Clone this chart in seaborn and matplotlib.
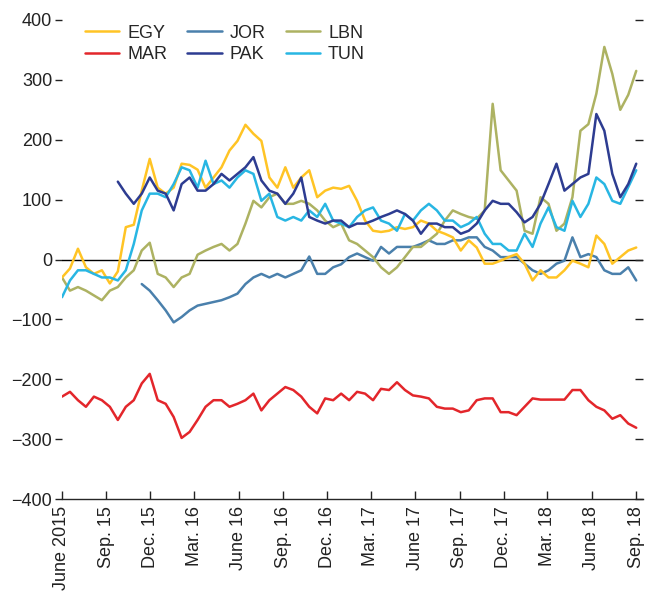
import numpy as np
import pandas as pd
import matplotlib
matplotlib.use("Agg")
import matplotlib.pyplot as plt
import seaborn as sns
from matplotlib.lines import Line2D

nan = np.nan
dates = pd.date_range("2015-06-01", "2018-09-01", periods=73)

egy = [-30, -15, 18, -13, -24, -18, -40, -20, 54, 58, 115, 168, 120, 110, 120, 160, 158, 150,
       120, 137, 154, 182, 198, 225, 210, 198, 137, 120, 154, 120, 137, 149, 104, 115, 120, 118,
       123, 98, 65, 48, 46, 48, 54, 51, 54, 65, 60, 48, 43, 37, 15, 32, 20, -7, -7, -2, 4, 9,
       -7, -35, -18, -30, -30, -18, -2, -7, -13, 40, 26, -7, 4, 15, 20]
mar = [-229, -221, -235, -246, -229, -235, -246, -268, -246, -235, -207, -191, -235, -241, -263,
       -298, -288, -268, -246, -235, -235, -246, -241, -235, -224, -252, -235, -224, -213, -218,
       -229, -246, -257, -232, -235, -224, -235, -221, -224, -235, -216, -218, -205, -218, -227,
       -229, -232, -246, -249, -249, -255, -252, -235, -232, -232, -255, -255, -260, -246, -232,
       -234, -234, -234, -234, -218, -218, -235, -246, -252, -266, -260, -274, -281]
jor = [nan] * 10 + [-41, -52, -68, -85, -105, -96, -85, -77, -74, -71, -68, -63, -57, -41, -30,
       -24, -30, -24, -30, -24, -18, 5, -24, -24, -13, -8, 4, 10, 4, -2, 21, 10, 21, 21, 21, 26,
       32, 26, 26, 32, 32, 37, 37, 21, 15, 4, 4, 4, -7, -18, -24, -18, -7, -2, 37, 4, 9, 4, -18,
       -24, -24, -13, -35]
pak = [nan] * 7 + [130, 110, 93, 110, 137, 115, 110, 82, 126, 137, 115, 115, 126, 143, 132, 143,
       154, 171, 132, 115, 110, 93, 110, 137, 71, 65, 60, 65, 65, 54, 60, 60, 65, 71, 76, 82, 76,
       65, 43, 60, 60, 54, 54, 43, 48, 60, 82, 98, 93, 93, 79, 62, 71, 93, 126, 160, 115, 126,
       137, 143, 243, 215, 143, 104, 126, 160]
lbn = [-30, -52, -46, -52, -60, -68, -52, -46, -30, -18, 15, 28, -24, -30, -46, -30, -24, 8, 15,
       21, 26, 15, 26, 60, 98, 87, 104, 110, 93, 93, 98, 93, 82, 65, 54, 60, 32, 26, 15, 4, -13,
       -24, -13, 4, 21, 21, 32, 43, 65, 82, 76, 71, 68, 82, 260, 149, 132, 115, 48, 43, 104, 93,
       48, 60, 104, 215, 226, 277, 355, 310, 250, 275, 315]
tun = [-63, -35, -18, -18, -24, -30, -30, -35, -18, 26, 82, 110, 110, 104, 126, 154, 149, 120,
       165, 126, 132, 120, 137, 149, 143, 98, 110, 71, 65, 71, 65, 82, 71, 93, 65, 60, 54, 71, 82,
       87, 65, 60, 48, 76, 65, 82, 93, 82, 65, 65, 54, 60, 71, 43, 26, 26, 15, 15, 43, 21, 60, 87,
       54, 48, 98, 71, 93, 137, 126, 98, 93, 121, 149]

countries = ["EGY", "MAR", "JOR", "PAK", "LBN", "TUN"]
series = {"EGY": egy, "MAR": mar, "JOR": jor, "PAK": pak, "LBN": lbn, "TUN": tun}
colors = {"EGY": "#FFC425", "MAR": "#E3262B", "JOR": "#4A80AC", "PAK": "#2D3C91",
          "LBN": "#ADB262", "TUN": "#28B6E3"}

tick_dates = pd.date_range("2015-06-01", "2018-09-01", freq="3MS")
tick_labels = ["June 2015", "Sep. 15", "Dec. 15", "Mar. 16", "June 16", "Sep. 16", "Dec. 16",
               "Mar. 17", "June 17", "Sep. 17", "Dec. 17", "Mar. 18", "June 18", "Sep. 18"]

frames = []
for c in countries:
    frames.append(pd.DataFrame({"date": dates, "value": series[c], "country": c}))
df = pd.concat(frames, ignore_index=True).dropna()

sns.set_style("ticks")
plt.rcParams["font.family"] = ["Liberation Sans", "DejaVu Sans"]
plt.rcParams["axes.unicode_minus"] = True

FS = 13
LW = 1.8

fig = plt.figure(figsize=(6.46, 5.94), dpi=100)
ax = fig.add_axes([62 / 646, 1 - 499 / 594, (643 - 62) / 646, (499 - 20) / 594])

ax.axhline(0, color="black", lw=1.0, zorder=1)
draw_order = ["MAR", "JOR", "LBN", "EGY", "TUN", "PAK"]
for c in draw_order:
    sub = df[df["country"] == c]
    sns.lineplot(data=sub, x="date", y="value", color=colors[c], lw=LW, ax=ax,
                 legend=False, zorder=3)

ax.set_ylim(-400, 400)
ax.set_yticks(np.arange(-400, 401, 100))
ax.set_xlim(pd.Timestamp("2015-06-01"), pd.Timestamp("2018-09-15"))
ax.set_xticks(tick_dates)
ax.set_xticklabels(tick_labels, rotation=90)
ax.set_xlabel("")
ax.set_ylabel("")

for s in ["left", "top", "right"]:
    ax.spines[s].set_visible(False)
ax.spines["bottom"].set_linewidth(1.0)
ax.tick_params(axis="y", direction="out", length=5, width=1, labelsize=FS, pad=2, colors="#222222")
ax.tick_params(axis="x", direction="in", length=6, width=1, labelsize=FS, pad=5, colors="#222222")

ax2 = ax.twinx()
ax2.set_ylim(-400, 400)
ax2.set_yticks(np.arange(-400, 401, 100))
ax2.tick_params(axis="y", direction="in", length=6, width=1, labelright=False, colors="#222222")
for s in ["left", "top", "right", "bottom"]:
    ax2.spines[s].set_visible(False)

handles = [Line2D([], [], color=colors[c], lw=LW) for c in countries]
ax.legend(handles, countries, ncol=3, frameon=False, loc="upper left",
          bbox_to_anchor=(0.0396, 0.99), borderpad=0, borderaxespad=0, fontsize=FS,
          handlelength=1.9, columnspacing=1.1, labelspacing=0.25, handletextpad=0.45)

fig.savefig("out.png", dpi=100)
